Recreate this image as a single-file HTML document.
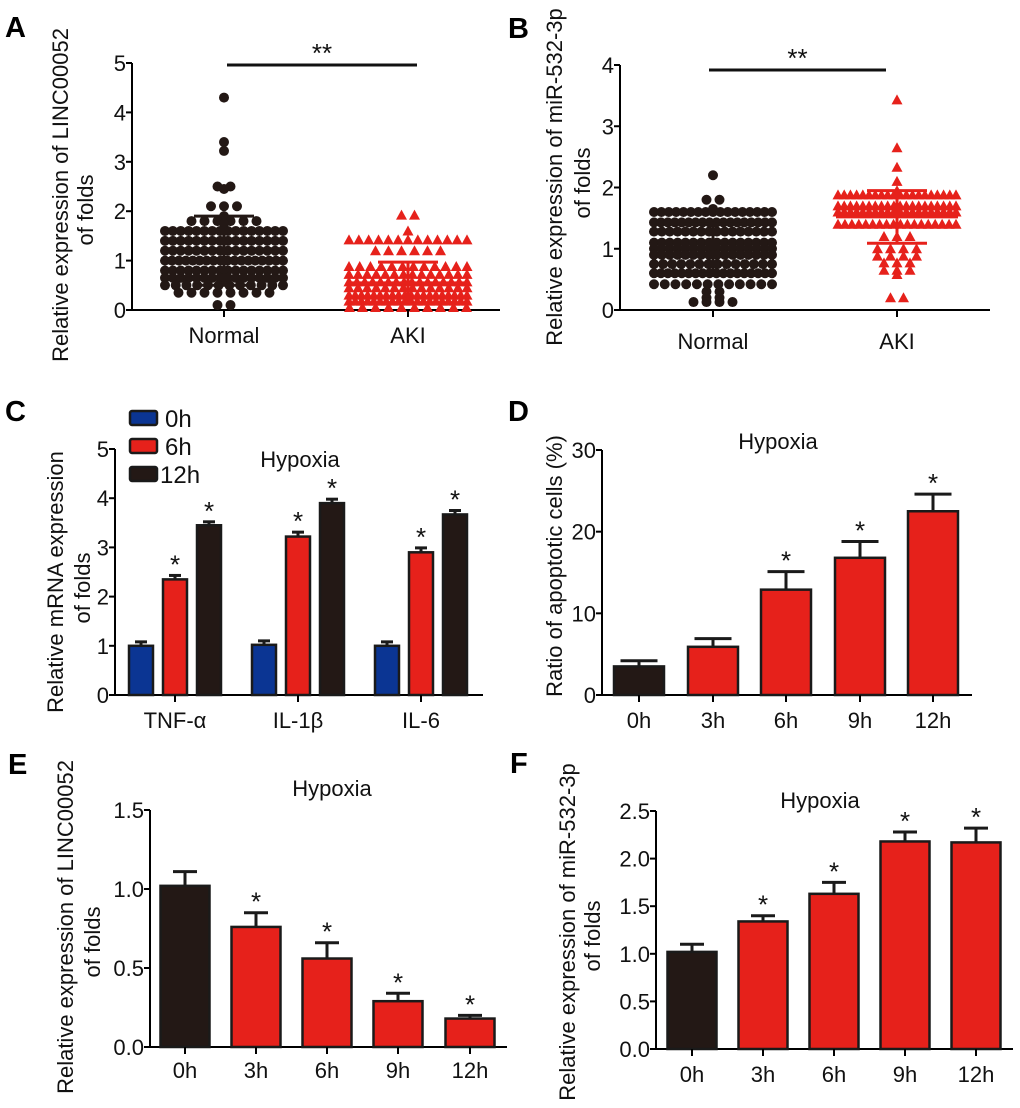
<!DOCTYPE html>
<html><head><meta charset="utf-8"><style>
html,body{margin:0;padding:0;background:#fff;}
svg{display:block;font-family:"Liberation Sans",Arial,sans-serif;}
</style></head><body>
<svg id="fig" width="1020" height="1108" viewBox="0 0 1020 1108" xmlns="http://www.w3.org/2000/svg"></svg>
<script>
// ---------- DATA ----------
const aCategories = ["Normal","AKI"];
const aNormal = [4.3,3.4,3.22,2.5,2.45,2.5,2.1,2.1,2.1,1.9,1.8,1.8,1.8,1.8,1.8,1.8,1.75,
1.6,1.6,1.6,1.6,1.6,1.6,1.6,1.6,1.6,1.6,1.6,1.6,1.6,1.6,1.6,1.6,
1.4,1.4,1.4,1.4,1.4,1.4,1.4,1.4,1.4,1.4,1.4,1.4,1.4,1.4,1.4,1.4,
1.2,1.2,1.2,1.2,1.2,1.2,1.2,1.2,1.2,1.2,1.2,1.2,1.2,1.2,1.2,1.2,
1.0,1.0,1.0,1.0,1.0,1.0,1.0,1.0,1.0,1.0,1.0,1.0,1.0,1.0,1.0,1.0,1.0,1.0,
0.8,0.8,0.8,0.8,0.8,0.8,0.8,0.8,0.8,0.8,0.8,0.8,0.8,0.8,0.8,0.8,
0.65,0.65,0.65,0.65,0.65,0.65,0.65,0.65,0.65,0.65,0.65,0.65,0.65,0.65,0.65,0.65,
0.5,0.5,0.5,0.5,0.5,0.5,0.5,0.5,0.5,0.5,0.5,0.5,
0.35,0.35,0.35,0.35,0.35,0.35,0.35,0.35,0.1,0.1];
const aAKI = [1.92,1.92,1.6,
1.42,1.42,1.42,1.42,1.42,1.42,1.42,1.42,1.42,1.42,1.42,1.42,1.42,
1.2,1.2,1.2,1.2,1.2,1.2,
0.88,0.88,0.88,0.88,0.88,0.88,0.88,0.88,0.88,0.88,0.88,0.88,
0.72,0.72,0.72,0.72,0.72,0.72,0.72,0.72,0.72,0.72,0.72,0.72,0.72,0.72,
0.57,0.57,0.57,0.57,0.57,0.57,0.57,0.57,0.57,0.57,0.57,0.57,0.57,0.57,0.57,0.57,
0.45,0.45,0.45,0.45,0.45,0.45,0.45,0.45,0.45,0.45,0.45,0.45,0.45,0.45,
0.3,0.3,0.3,0.3,0.3,0.3,0.3,0.3,0.3,0.3,0.3,0.3,0.3,0.3,0.3,0.3,0.3,0.3,0.3,0.3,
0.18,0.18,0.18,0.18,0.18,0.18,0.18,0.18,0.18,0.18,0.18,0.18,0.18,0.18,0.18,0.18,0.18,0.18,0.18,0.18,
0.05,0.05,0.05,0.05,0.05,0.05,0.05,0.05,0.05,0.05];
const aMeans = [1.2, 0.55];
const aSD = [0.7, 0.42];
const aTicks = [0,1,2,3,4,5];

const bCategories = ["Normal","AKI"];
const bNormal = [2.2,1.8,1.8,1.65,1.6,
1.6,1.6,1.6,1.6,1.6,1.6,1.6,1.6,1.6,1.6,1.6,1.6,1.6,1.6,1.6,1.6,
1.43,1.43,1.43,1.43,1.43,1.43,1.43,1.43,1.43,1.43,1.43,1.43,1.43,1.43,1.43,1.43,1.43,1.43,
1.28,1.28,1.28,1.28,1.28,1.28,1.28,1.28,1.28,1.28,1.28,1.28,1.28,1.28,1.28,1.28,
1.1,1.1,1.1,1.1,1.1,1.1,1.1,1.1,1.1,1.1,1.1,1.1,1.1,1.1,1.1,1.1,
1.0,1.0,1.0,1.0,1.0,1.0,1.0,1.0,1.0,1.0,1.0,1.0,1.0,1.0,1.0,1.0,
0.9,0.9,0.9,0.9,0.9,0.9,0.9,0.9,0.9,0.9,0.9,0.9,0.9,0.9,0.9,0.9,
0.75,0.75,0.75,0.75,0.75,0.75,0.75,0.75,0.75,0.75,0.75,0.75,0.75,0.75,
0.6,0.6,0.6,0.6,0.6,0.6,0.6,0.6,0.6,0.6,0.6,0.6,0.6,0.6,0.6,0.6,0.6,0.6,
0.42,0.42,0.42,0.42,0.42,0.42,0.42,0.42,0.42,0.42,0.42,0.42,
0.3,0.3,0.2,0.2,0.13,0.13,0.13,0.13];
const bAKI = [3.43,2.65,2.33,2.1,1.95,
1.88,1.88,1.88,1.88,1.88,1.88,1.88,1.88,1.88,1.88,1.88,1.88,1.88,1.88,1.88,1.88,1.88,1.88,1.88,1.88,
1.7,1.7,1.7,1.7,1.7,1.7,1.7,1.7,1.7,1.7,1.7,1.7,1.7,1.7,1.7,1.7,1.7,1.7,1.7,1.7,
1.6,1.6,1.6,1.6,1.6,1.6,1.6,1.6,1.6,1.6,1.6,1.6,1.6,1.6,1.6,1.6,1.6,1.6,1.6,1.6,
1.4,1.4,1.4,1.4,1.4,1.4,1.4,1.4,1.4,1.4,1.4,1.4,1.4,1.4,1.4,1.4,1.4,1.4,
1.2,1.2,1.2,1.0,1.0,1.0,1.0,0.88,0.88,0.88,0.88,0.77,0.77,0.77,0.65,0.65,0.65,0.58,0.2,0.2];
const bMeans = [1.02, 1.52];
const bSD = [0.43, 0.43];
const bTicks = [0,1,2,3,4];

const cCategories = ["TNF-\u03b1","IL-1\u03b2","IL-6"];
const cSeriesNames = ["0h","6h","12h"];
const c0h = [1.0, 1.02, 1.0];
const c6h = [2.35, 3.22, 2.9];
const c12h = [3.45, 3.9, 3.67];
const c0hErr = [0.08, 0.08, 0.08];
const c6hErr = [0.08, 0.09, 0.09];
const c12hErr = [0.07, 0.08, 0.08];
const cStars = [[false,true,true],[false,true,true],[false,true,true]];
const cTicks = [0,1,2,3,4,5];

const timeCategories = ["0h","3h","6h","9h","12h"];
const dValues = [3.5, 5.9, 12.9, 16.8, 22.5];
const dErr = [0.7, 1.0, 2.2, 2.0, 2.1];
const dStars = [false,false,true,true,true];
const dTicks = [0,10,20,30];

const eValues = [1.02, 0.76, 0.56, 0.29, 0.18];
const eErr = [0.09, 0.09, 0.1, 0.05, 0.02];
const eStars = [false,true,true,true,true];
const eTicks = ["0.0","0.5","1.0","1.5"];

const fValues = [1.02, 1.34, 1.63, 2.18, 2.17];
const fErr = [0.08, 0.06, 0.12, 0.1, 0.15];
const fStars = [false,true,true,true,true];
const fTicks = ["0.0","0.5","1.0","1.5","2.0","2.5"];

// ---------- HELPERS ----------
const NS = "http://www.w3.org/2000/svg";
const svg = document.getElementById("fig");
const RED = "#e6211b", BLK = "#231815", BLUE = "#0b3593";
const FS = 22;
function mk(tag, attrs, parent, txt){
  const el = document.createElementNS(NS, tag);
  for (const k in attrs) el.setAttribute(k, attrs[k]);
  if (txt !== undefined) el.textContent = txt;
  (parent || svg).appendChild(el);
  return el;
}
function linY(v0, v1, p0, p1){ return v => p0 + (v - v0) * (p1 - p0) / (v1 - v0); }

function axes(g, x0, x1, y0, yTop, ticks, yScale, name){
  let el;
  el = mk("line",{x1:x0,y1:y0,x2:x0,y2:yTop,stroke:"#000","stroke-width":2},g);
  
  
  el = mk("line",{x1:x0,y1:y0,x2:x1,y2:y0,stroke:"#000","stroke-width":2},g);
  
  
  ticks.forEach(t => {
    const y = yScale(parseFloat(t));
    const tl = mk("line",{x1:x0-6,y1:y,x2:x0,y2:y,stroke:"#000","stroke-width":2},g);
    
    
    const tx = mk("text",{x:x0-6,y:y+8,"text-anchor":"end","font-size":FS,fill:"#111"},g,String(t));
    
    
  });
}
function xLabel(g, x, y0, lblY, text){
  const tl = mk("line",{x1:x,y1:y0,x2:x,y2:y0+7,stroke:"#000","stroke-width":2},g);
  
  
  const tx = mk("text",{x:x,y:lblY,"text-anchor":"middle","font-size":FS,fill:"#111"},g,text);
  
  
}
function vTitle(g, x, cy, text){
  const t = mk("text",{transform:`translate(${x},${cy}) rotate(-90)`,"text-anchor":"middle","font-size":FS,fill:"#111"},g,text);
  
  
}
function letter(x, y, t){
  const el = mk("text",{x:x,y:y,"font-size":29,"font-weight":"bold",fill:"#000"},svg,t);
  
  
}
function hyp(g, x, y){
  const el = mk("text",{x:x,y:y,"text-anchor":"middle","font-size":FS,fill:"#111"},g,"Hypoxia");
  
  
}
function star(g, x, y){
  const el = mk("text",{x:x,y:y+2,"text-anchor":"middle","font-size":26,fill:"#111"},g,"*");
  
  
}
function bar(g, cx, w, val, err, yScale, color, capW, hasStar){
  const yT = yScale(val), yB = yScale(0), yE = yScale(val+err);
  let el = mk("line",{x1:cx,y1:yT,x2:cx,y2:yE,stroke:"#1a1a1a","stroke-width":3},g);
  
  
  el = mk("line",{x1:cx-capW/2,y1:yE,x2:cx+capW/2,y2:yE,stroke:"#1a1a1a","stroke-width":3},g);
  
  
  el = mk("rect",{x:cx-w/2,y:yT,width:w,height:yB-yT,fill:color,stroke:"#1a1a1a","stroke-width":2.5},g);
  
  
  if (hasStar) star(g, cx, yE-4);
}

// ---------- SCATTER PANELS ----------
function scatter(g, groups, centers, yScale, maxW, shape, colors){
  groups.forEach((vals, gi) => {
    const rows = {};
    vals.forEach(v => { (rows[v] = rows[v] || []).push(v); });
    Object.keys(rows).forEach(k => {
      const arr = rows[k], n = arr.length;
      const sp = n > 1 ? Math.min(13, maxW/(n-1)) : 0;
      arr.forEach((v, i) => {
        const x = centers[gi] + (i - (n-1)/2) * sp, y = yScale(v);
        let el;
        if (shape[gi] === "circle") {
          el = mk("circle",{cx:x,cy:y,r:5,fill:colors[gi]},g);
          
        } else {
          el = mk("polygon",{points:`${x},${y-5.5} ${x-5.5},${y+4.5} ${x+5.5},${y+4.5}`,fill:colors[gi]},g);
          
        }
        
      });
    });
  });
}
function meanSD(g, cx, mean, sd, yScale, color){
  let el;
  el = mk("line",{x1:cx-61,y1:yScale(mean),x2:cx+61,y2:yScale(mean),stroke:color,"stroke-width":3},g);
  
  
  [mean+sd, mean-sd].forEach(v => {
    const s = mk("line",{x1:cx-30,y1:yScale(v),x2:cx+30,y2:yScale(v),stroke:color,"stroke-width":3},g);
    
    
  });
  el = mk("line",{x1:cx,y1:yScale(mean+sd),x2:cx,y2:yScale(mean-sd),stroke:color,"stroke-width":3},g);
  
  
}
function sig(g, x1, x2, y, label){
  let el = mk("line",{x1:x1,y1:y,x2:x2,y2:y,stroke:"#111","stroke-width":3},g);
  
  
  el = mk("text",{x:(x1+x2)/2,y:y-3,"text-anchor":"middle","font-size":26,fill:"#111"},g,label);
  
  
}

// Panel A
let gA = mk("g",{});  
letter(5, 37, "A");
const yA = linY(0, 5, 310, 63);
const xA = [224, 408];
axes(gA, 132, 500, 310, 63, aTicks, yA, "panel-a");
scatter(gA, [aNormal, aAKI], xA, yA, 118, ["circle","tri"], [BLK, RED]);
meanSD(gA, xA[0], aMeans[0], aSD[0], yA, BLK);
meanSD(gA, xA[1], aMeans[1], aSD[1], yA, RED);
aCategories.forEach((c,i) => xLabel(gA, xA[i], 310, 343, c));
sig(gA, 227, 417, 65, "**");
vTitle(gA, 68, 195, "Relative expression of LINC00052");
vTitle(gA, 93, 210, "of folds");

// Panel B
let gB = mk("g",{});  
letter(508, 38, "B");
const yB = linY(0, 4, 310, 65);
const xB = [713, 897];
axes(gB, 620, 990, 310, 65, bTicks, yB, "panel-b");
scatter(gB, [bNormal, bAKI], xB, yB, 118, ["circle","tri"], [BLK, RED]);
meanSD(gB, xB[0], bMeans[0], bSD[0], yB, BLK);
meanSD(gB, xB[1], bMeans[1], bSD[1], yB, RED);
bCategories.forEach((c,i) => xLabel(gB, xB[i], 310, 349, c));
sig(gB, 709, 886, 70, "**");
vTitle(gB, 562, 177, "Relative expression of miR-532-3p");
vTitle(gB, 590, 183, "of folds");

// Panel C
let gC = mk("g",{});  
letter(5, 421, "C");
const yC = linY(0, 5, 695, 449);
const xC = [175, 298, 421];
axes(gC, 115, 483, 695, 449, cTicks, yC, "panel-c");
const cSeries = [c0h, c6h, c12h], cErrs = [c0hErr, c6hErr, c12hErr], cCols = [BLUE, RED, BLK];
cCategories.forEach((c, i) => {
  cSeries.forEach((s, j) => bar(gC, xC[i] + (j-1)*34, 24, s[i], cErrs[j][i], yC, cCols[j], 12, cStars[i][j]));
  xLabel(gC, xC[i], 695, 728, c);
});
cSeriesNames.forEach((n, j) => {
  const y = 411 + j*28;
  const r = mk("rect",{x:130,y:y,width:27,height:14,fill:cCols[j],stroke:"#1a1a1a","stroke-width":2.5,rx:2},gC);
  
  
  const t = mk("text",{x:j===2?160:165,y:y+16,"font-size":24,fill:"#111"},gC,n);
  
  
});
hyp(gC, 300, 467);
vTitle(gC, 63, 582, "Relative mRNA expression");
vTitle(gC, 90, 588, "of folds");

// Panel D
let gD = mk("g",{});  
letter(508, 421, "D");
const yD = linY(0, 30, 695, 450);
const xD = [639, 713, 786, 860, 933];
axes(gD, 602, 972, 695, 450, dTicks, yD, "panel-d");
timeCategories.forEach((c,i) => {
  bar(gD, xD[i], 50, dValues[i], dErr[i], yD, i===0?BLK:RED, 37, dStars[i]);
  xLabel(gD, xD[i], 695, 728, c);
});
hyp(gD, 778, 449);
vTitle(gD, 562, 566, "Ratio of apoptotic cells (%)");

// Panel E
let gE = mk("g",{});  
letter(8, 774, "E");
const yE = linY(0, 1.5, 1047, 810);
const xE = [185, 256, 327, 398, 470];
axes(gE, 150, 507, 1047, 810, eTicks, yE, "panel-e");
timeCategories.forEach((c,i) => {
  bar(gE, xE[i], 49, eValues[i], eErr[i], yE, i===0?BLK:RED, 24, eStars[i]);
  xLabel(gE, xE[i], 1047, 1078, c);
});
hyp(gE, 332, 796);
vTitle(gE, 73, 927, "Relative expression of LINC00052");
vTitle(gE, 100, 942, "of folds");

// Panel F
let gF = mk("g",{});  
letter(510, 773, "F");
const yF = linY(0, 2.5, 1049, 811);
const xF = [692, 763, 834, 905, 976];
axes(gF, 656, 1013, 1049, 811, fTicks, yF, "panel-f");
timeCategories.forEach((c,i) => {
  bar(gF, xF[i], 49, fValues[i], fErr[i], yF, i===0?BLK:RED, 24, fStars[i]);
  xLabel(gF, xF[i], 1049, 1082, c);
});
hyp(gF, 820, 808);
vTitle(gF, 575, 932, "Relative expression of miR-532-3p");
vTitle(gF, 600, 936, "of folds");
</script>
</body></html>
